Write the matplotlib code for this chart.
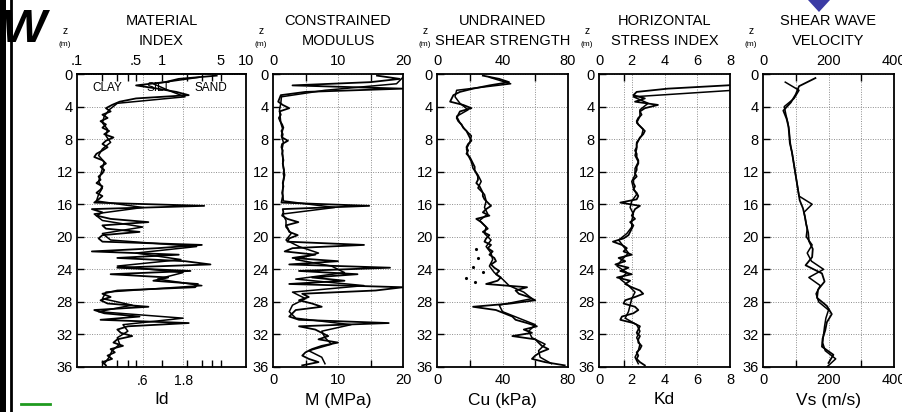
import numpy as np
import matplotlib
matplotlib.use("Agg")
import matplotlib.pyplot as plt
from matplotlib.ticker import FixedLocator, NullFormatter, NullLocator
from matplotlib.patches import Polygon, Rectangle
from matplotlib.lines import Line2D

plt.rcParams['font.family'] = ['Liberation Sans', 'DejaVu Sans']

# run A sampled every 0.4 m from 0.2 m, run B every 0.8 m from 0.4 m
id_a = [4.5, 1.6, 1.1, 0.5, 0.9, 1.5, 2.1, 0.5, 0.32, 0.26,
        0.22, 0.25, 0.2, 0.23, 0.19, 0.22, 0.2, 0.24, 0.21, 0.27,
        0.22, 0.2, 0.23, 0.2, 0.17, 0.16, 0.2, 0.22, 0.19, 0.21,
        0.2, 0.18, 0.19, 0.17, 0.2, 0.19, 0.17, 0.2, 0.18, 0.16,
        3.2, 0.15, 0.2, 0.17, 0.25, 0.7, 0.2, 0.22, 0.55, 0.2,
        0.18, 0.2, 3.0, 0.9, 0.15, 1.6, 0.3, 1.9, 3.8, 0.3,
        2.2, 0.25, 1.2, 0.8, 2.7, 2.5, 0.3, 0.2, 0.25, 0.19,
        0.23, 0.7, 0.16, 0.21, 0.55, 0.19, 2.1, 0.4, 0.3, 0.33,
        0.45, 0.3, 0.27, 0.35, 0.25, 0.28, 0.23, 0.26, 0.2, 0.22]
id_b = [2.8, 0.8, 1.2, 1.9, 0.3,
        0.24, 0.21, 0.2, 0.23, 0.22,
        0.25, 0.2, 0.18, 0.21, 0.2,
        0.19, 0.18, 0.2, 0.18, 0.17,
        0.6, 0.16, 0.2, 0.6, 0.2,
        0.25, 2.6, 0.5, 1.7, 0.3,
        1.8, 0.9, 3.0, 0.22, 0.2,
        0.45, 0.18, 1.8, 0.35, 0.4,
        0.3, 0.32, 0.26, 0.24, 0.21]

m_a = [16, 19.5, 15, 3, 20, 5, 1.2, 1.0, 0.8, 1.5,
       2.5, 1.0, 1.2, 0.9, 1.1, 1.4, 1.6, 1.3, 1.5, 1.4,
       2.3, 1.4, 1.3, 1.5, 1.4, 1.5, 1.6, 1.5, 1.6, 1.7,
       1.6, 1.7, 1.6, 1.5, 1.6, 1.5, 1.4, 1.5, 1.4, 1.3,
       14.8, 1.5, 1.6, 1.4, 2.2, 3.9, 2.0, 2.3, 2.5, 3.8,
       2.5, 2.2, 14.0, 3.0, 1.8, 6.5, 3.0, 10.0, 2.5, 18.0,
       4.0, 13.0, 6.0, 11.0, 2.5, 20.0, 15.8, 4.5, 5.5, 4.0,
       6.0, 7.5, 3.5, 3.0, 2.5, 4.0, 17.8, 4.0, 6.5, 7.5,
       8.5, 7.0, 10.0, 7.5, 6.0, 5.0, 4.5, 5.5, 7.0, 4.5]
m_b = [20, 19, 8, 1.3, 1.2,
       1.0, 1.1, 1.2, 1.5, 1.3,
       1.6, 1.4, 1.5, 1.5, 1.6,
       1.8, 1.6, 1.5, 1.5, 1.6,
       9.5, 1.5, 2.0, 2.0, 2.8,
       2.0, 4.0, 7.0, 3.5, 9.0,
       11.0, 3.5, 14.0, 3.0, 5.0,
       3.0, 2.5, 3.5, 12.0, 7.5,
       8.0, 9.0, 5.5, 7.5, 8.0]

cu_a = [28, 38, 44, 32, 22, 14, 10, 9, 8, 16,
        21, 14, 13, 12, 13, 15, 16, 18, 19, 20,
        21, 19, 18, 19, 18, 20, 21, 22, 23, 23,
        24, 25, 25, 24, 26, 27, 28, 28, 29, 31,
        33, 30, 28, 32, 24, 27, 29, 31, 28, 32,
        30, 29, 33, 31, 34, 32, 35, 36, 33, 35,
        38, 36, 39, 37, 30, 55, 48, 50, 56, 60,
        45, 22, 36, 41, 46, 48, 55, 61, 53, 58,
        46, 60, 62, 64, 68, 63, 60, 58, 66, 78]
cu_b = [32, 45, 12, 11, 14,
        19, 12, 14, 17, 21,
        20, 18, 19, 21, 22,
        25, 27, 25, 29, 30,
        29, 31, 26, 30, 29,
        33, 30, 33, 34, 32,
        35, 40, 44, 53, 58,
        38, 40, 50, 60, 56,
        58, 66, 62, 63, 70]
cu_dot_z = [21.5, 22.6, 23.7, 24.3, 25.1, 25.6]
cu_dot_v = [24, 25, 22, 28, 18, 23]

kd_a = [16, 14, 11, 7.8, 4.2, 2.3, 2.1, 2.8, 2.2, 3.6,
        2.8, 2.5, 2.6, 2.4, 2.3, 2.4, 2.6, 2.8, 2.7, 2.5,
        2.4, 2.3, 2.3, 2.2, 2.3, 2.3, 2.4, 2.4, 2.3, 2.3,
        2.2, 2.3, 2.1, 2.1, 2.2, 2.1, 2.3, 2.4, 2.3, 1.3,
        2.5, 2.2, 2.1, 2.0, 2.2, 1.9, 2.1, 2.0, 1.9, 1.8,
        1.5, 0.85, 1.4, 1.7, 1.5, 2.0, 1.2, 1.6, 1.0, 1.8,
        1.3, 2.0, 1.1, 1.9, 1.6, 2.0, 2.5, 2.7, 2.2, 1.6,
        1.5, 2.2, 2.4, 2.1, 1.4, 1.3, 2.1, 2.5, 2.4, 2.3,
        2.5, 2.4, 2.4, 2.6, 2.5, 2.3, 2.4, 2.3, 2.5, 2.8]
kd_b = [16, 13, 8.2, 2.1, 3.0,
        2.5, 2.5, 2.3, 2.7, 2.6,
        2.3, 2.3, 2.2, 2.4, 2.2,
        2.2, 2.0, 2.1, 2.3, 2.0,
        1.9, 2.1, 2.0, 2.0, 1.7,
        1.2, 1.5, 1.8, 1.4, 1.1,
        1.7, 1.3, 1.8, 2.2, 2.0,
        1.9, 1.8, 1.6, 2.3, 2.5,
        2.3, 2.5, 2.4, 2.2, 2.4]

# shear wave velocity every 1 m
vs_a = [160, 110, 100, 85, 62, 72, 78, 80, 82, 88,
        92, 96, 100, 104, 108, 112, 122, 128, 132, 138,
        140, 152, 150, 130, 180, 188, 168, 165, 195, 210,
        195, 190, 182, 180, 215, 200]
vs_b = [68, 110, 95, 65, 70, 76, 80, 82, 85, 90,
        94, 98, 102, 106, 110, 150, 125, 130, 135, 132,
        150, 135, 148, 185, 140, 175, 162, 170, 200, 192,
        188, 185, 182, 190, 222, 195]

titles = [("MATERIAL", "INDEX"), ("CONSTRAINED", "MODULUS"),
          ("UNDRAINED", "SHEAR STRENGTH"), ("HORIZONTAL", "STRESS INDEX"),
          ("SHEAR WAVE", "VELOCITY")]
xlabels = ["Id", "M (MPa)", "Cu (kPa)", "Kd", "Vs (m/s)"]


def depth(start, step, vals):
    return start + step * np.arange(len(vals))


W, H = 902, 412
fig = plt.figure(figsize=(W / 100, H / 100), dpi=100)

TOP, BOT = 74, 367
lefts = [77, 273, 437, 599, 763]
rights = [246, 403, 568, 730, 894]

grid_kw = dict(color='#8c8c8c', linestyle=(0, (1, 1.5)), linewidth=0.7)

axes = []
for i in range(5):
    x0, x1 = lefts[i], rights[i]
    ax = fig.add_axes([x0 / W, 1 - BOT / H, (x1 - x0) / W, (BOT - TOP) / H])
    ax.set_ylim(36, 0)
    ax.set_yticks(range(0, 37, 4))
    ax.tick_params(axis='y', direction='in', length=5, width=1, labelsize=10.5, pad=3)
    for s in ax.spines.values():
        s.set_linewidth(1.3)
    ax.yaxis.grid(True, **grid_kw)
    ax.set_axisbelow(True)
    axes.append(ax)

    cx = (x0 + x1) / 2
    fig.text(cx / W, 1 - 21 / H, titles[i][0], ha='center', va='center', fontsize=10.5)
    fig.text(cx / W, 1 - 41 / H, titles[i][1], ha='center', va='center', fontsize=10.5)
    fig.text((x0 - 12) / W, 1 - 31 / H, "z", ha='center', va='center', fontsize=7.5)
    fig.text((x0 - 12) / W, 1 - 44 / H, "(m)", ha='center', va='center', fontsize=6)
    fig.text(cx / W, 1 - 400 / H, xlabels[i], ha='center', va='center', fontsize=12.5)

line_a = dict(color='black', linewidth=1.3)
line_b = dict(color='black', linewidth=1.1)

# material index (log)
ax = axes[0]
ax.set_xscale('log')
ax.set_xlim(0.1, 10)
ax.plot(id_a, depth(0.2, 0.4, id_a), **line_a)
ax.plot(id_b, depth(0.4, 0.8, id_b), **line_b)
ax.set_xticks([0.6, 1.8], ['.6', '1.8'])
ax.xaxis.set_minor_locator(FixedLocator([0.2, 0.3, 0.4, 0.5, 1, 2, 3, 4, 5]))
ax.xaxis.set_minor_formatter(NullFormatter())
ax.tick_params(axis='x', which='major', length=0, labelsize=10, pad=5)
ax.tick_params(axis='x', which='minor', direction='in', top=True, bottom=True, length=5, width=1)
ax.xaxis.grid(True, which='major', **grid_kw)
sec = ax.secondary_xaxis('top')
sec.set_xticks([0.1, 0.5, 1, 5, 10], ['.1', '.5', '1', '5', '10'])
sec.xaxis.set_minor_locator(NullLocator())
sec.tick_params(length=0, labelsize=10.5, pad=4)
sec.spines['top'].set_linewidth(1.3)
for lab, xf in [("CLAY", 0.18), ("SILT", 0.48), ("SAND", 0.79)]:
    ax.text(xf, 1.7, lab, transform=ax.get_yaxis_transform(), ha='center', va='center',
            fontsize=8.5, zorder=1)


def linear_x(ax, lim, labels, grid):
    ax.set_xlim(*lim)
    ax.set_xticks(labels)
    ax.xaxis.set_minor_locator(FixedLocator(grid))
    ax.tick_params(axis='x', which='both', direction='in', top=True, bottom=True,
                   labeltop=True, labelbottom=True, length=5, width=1, labelsize=10.5, pad=4)
    ax.tick_params(axis='x', which='major', length=0)
    for g in grid:
        ax.axvline(g, zorder=0, **grid_kw)


ax = axes[1]
ax.plot(m_a, depth(0.2, 0.4, m_a), **line_a)
ax.plot(m_b, depth(0.4, 0.8, m_b), **line_b)
linear_x(ax, (0, 20), [0, 10, 20], [5, 10, 15])

ax = axes[2]
ax.plot(cu_a, depth(0.2, 0.4, cu_a), **line_a)
ax.plot(cu_b, depth(0.4, 0.8, cu_b), **line_b)
ax.plot(cu_dot_v, cu_dot_z, 'k.', markersize=2.5)
linear_x(ax, (0, 80), [0, 40, 80], [20, 40, 60])

ax = axes[3]
ax.plot(kd_a, depth(0.2, 0.4, kd_a), **line_a)
ax.plot(kd_b, depth(0.4, 0.8, kd_b), **line_b)
linear_x(ax, (0, 8), [0, 2, 4, 6, 8], [1.5, 2, 4, 6])

ax = axes[4]
ax.plot(vs_a, depth(0.5, 1.0, vs_a), **line_a)
ax.plot(vs_b, depth(1.0, 1.0, vs_b), **line_b)
linear_x(ax, (0, 400), [0, 200, 400], [100, 200, 300])

# page decorations from the scanned sheet
def px(x, y):
    return (x / W, 1 - y / H)

fig.patches.append(Rectangle(px(0, H), 6 / W, 1, transform=fig.transFigure,
                             facecolor='black', edgecolor='none'))
fig.lines.append(Line2D([10.5 / W, 10.5 / W], [0, 1], transform=fig.transFigure,
                        color='black', linewidth=2))
fig.text(px(2, 30)[0], px(2, 30)[1], "W", fontsize=34, fontweight='heavy',
         fontstyle='italic', ha='left', va='center')
fig.lines.append(Line2D([21 / W, 50 / W], [1 - 404 / H, 1 - 404 / H],
                        transform=fig.transFigure, color='#1f9a1f', linewidth=2))
fig.patches.append(Polygon([px(808, 0), px(830, 0), px(819, 12)], closed=True,
                           transform=fig.transFigure, facecolor='#3b3ba5', edgecolor='none'))

fig.savefig("out.png", dpi=100)
